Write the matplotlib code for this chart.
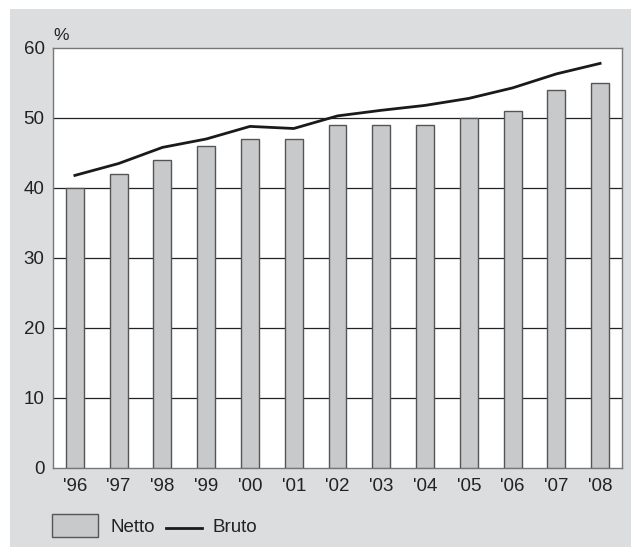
import matplotlib.pyplot as plt
from matplotlib.patches import Rectangle
from matplotlib.lines import Line2D
import numpy as np

plt.rcParams['font.family'] = ['Liberation Sans', 'DejaVu Sans']

years = ["'96", "'97", "'98", "'99", "'00", "'01", "'02", "'03", "'04", "'05", "'06", "'07", "'08"]
netto = [40, 42, 44, 46, 47, 47, 49, 49, 49, 50, 51, 54, 55]
bruto = [41.8, 43.5, 45.8, 47.0, 48.8, 48.5, 50.3, 51.1, 51.8, 52.8, 54.3, 56.3, 57.8]

bg = '#dcdddf'
bar_fill = '#c8c9cb'
edge = '#555555'
txt = '#222222'

fig = plt.figure(figsize=(6.31, 5.5), dpi=100)
fig.patch.set_facecolor('white')
# grey panel behind the chart
fig.add_artist(Rectangle((10 / 631, 3 / 550), 1, (547 - 9) / 550,
                         transform=fig.transFigure, facecolor=bg, edgecolor='none', zorder=0))

ax = fig.add_axes([53 / 631, (550 - 468) / 550, (622 - 53) / 631, (468 - 48) / 550])
ax.set_facecolor('white')

x = np.arange(len(years))
ax.bar(x, netto, width=0.41, color=bar_fill, edgecolor=edge, linewidth=1.0, zorder=3)
ax.plot(x, bruto, color='#1a1a1a', linewidth=2.0, zorder=4)

ax.set_xlim(-0.5, len(years) - 0.5)
ax.set_ylim(0, 60)
ax.set_yticks(range(0, 61, 10))
ax.set_xticks(x)
ax.set_xticklabels(years)
for y in range(10, 60, 10):
    ax.axhline(y, color='#222222', linewidth=0.9, zorder=2)

for s in ax.spines.values():
    s.set_color('#777777')
    s.set_linewidth(1.0)
ax.tick_params(length=0, labelsize=13.5, colors=txt)
ax.tick_params(axis='x', pad=7)
ax.tick_params(axis='y', pad=6)

fig.text(53 / 631, (550 - 36) / 550, '%', fontsize=12.5, color=txt, ha='left', va='center')

# legend
fig.add_artist(Rectangle((52 / 631, (550 - 537) / 550), 46 / 631, 23 / 550,
                         transform=fig.transFigure, facecolor=bar_fill, edgecolor=edge, linewidth=1.0))
fig.text(110 / 631, (550 - 528) / 550, 'Netto', fontsize=13.5, color=txt, va='center')
fig.add_artist(Line2D([166 / 631, 202 / 631], [(550 - 528) / 550] * 2,
                      transform=fig.transFigure, color='#1a1a1a', linewidth=2.0))
fig.text(213 / 631, (550 - 528) / 550, 'Bruto', fontsize=13.5, color=txt, va='center')

fig.savefig('out.png', dpi=100, facecolor=fig.get_facecolor())
